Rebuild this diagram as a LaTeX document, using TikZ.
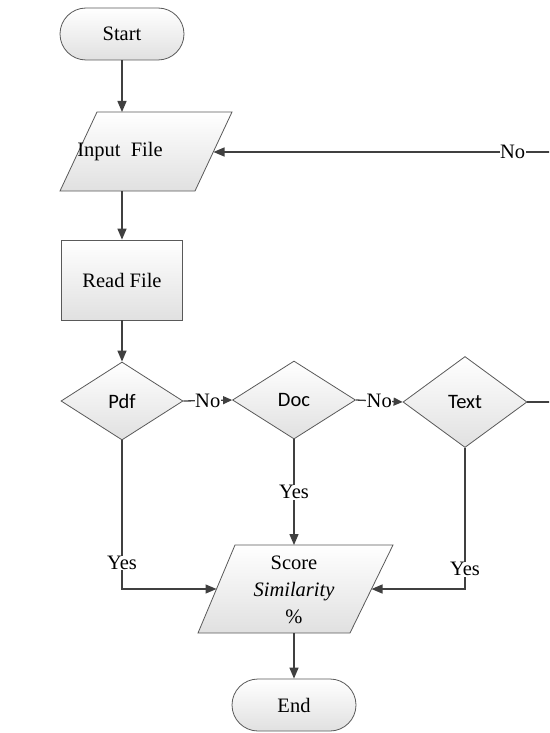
\documentclass[tikz,border=0pt]{standalone}
\usepackage{fontspec}
\setmainfont{Liberation Serif}
\newfontfamily\calfont{Carlito}
\usetikzlibrary{shapes.geometric,arrows.meta}
\begin{document}
\begin{tikzpicture}[x=1pt,y=-1pt,
  every node/.style={font=\fontsize{20.5}{27}\selectfont},
  shapebox/.style={draw=black!65, line width=0.8pt, top color=white, bottom color=black!12},
  term/.style={shapebox, rectangle, rounded corners=26pt, minimum width=124pt, minimum height=52pt, inner sep=0pt},
  proc/.style={shapebox, rectangle, minimum width=121pt, minimum height=80pt, inner sep=0pt},
  dec/.style={shapebox, diamond, inner sep=0pt, font=\calfont\fontsize{20.5}{24}\selectfont},
  conn/.style={draw=black!75, line width=1.3pt, -{Triangle[length=11pt,width=9pt]}},
  noarr/.style={draw=black!75, line width=1.3pt, -{Triangle[length=9pt,width=8pt]}},
  lbl/.style={fill=white, inner sep=0.5pt}
]
\useasboundingbox (0,0) rectangle (549,733);
\clip (0,0) rectangle (549,733);

% Terminals
\node[term] (start) at (122,34) {Start};
\node[term] (end) at (294,705) {End};

% Input File parallelogram
\path[shapebox] (97,112) -- (232,112) -- (195,191) -- (60,191) -- cycle;
\node (input) at (120,152) {Input\ \ File};
\coordinate (inTop) at (122,112);
\coordinate (inBot) at (122,191);
\coordinate (inR) at (213.5,152);

% Read File
\node[proc] (read) at (122,280) {Read File};

% Decisions
\node[dec, minimum width=122pt, minimum height=78pt] (pdf) at (122,401) {Pdf};
\node[dec, minimum width=123pt, minimum height=78pt] (doc) at (294,400) {Doc};
\node[dec, minimum width=124pt, minimum height=91pt] (txt) at (465,402) {Text};

% Score parallelogram
\path[shapebox] (235,545) -- (393,545) -- (350,633) -- (198,633) -- cycle;
\node[align=center] (score) at (294,590) {Score\\\textit{Similarity}\\\%};
\coordinate (scTop) at (294,545);
\coordinate (scBot) at (294,633);
\coordinate (scL) at (216.5,589);
\coordinate (scR) at (371.5,589);

% Connectors
\draw[conn] (start.south) -- (inTop);
\draw[conn] (inBot) -- (read.north);
\draw[conn] (read.south) -- (pdf.north);
\draw[noarr] (pdf.east) -- node[lbl]{No} (doc.west);
\draw[noarr] (doc.east) -- node[lbl]{No} (txt.west);
\draw[conn] (txt.east) -- ++(50,0) |- node[lbl,pos=0.589]{No} (inR);
\draw[conn] (pdf.south) |- node[lbl,pos=0.413]{Yes} (scL);
\draw[conn] (doc.south) -- node[lbl]{Yes} (scTop);
\draw[conn] (txt.south) |- node[lbl,pos=0.43]{Yes} (scR);
\draw[conn] (scBot) -- (end.north);
\end{tikzpicture}
\end{document}
